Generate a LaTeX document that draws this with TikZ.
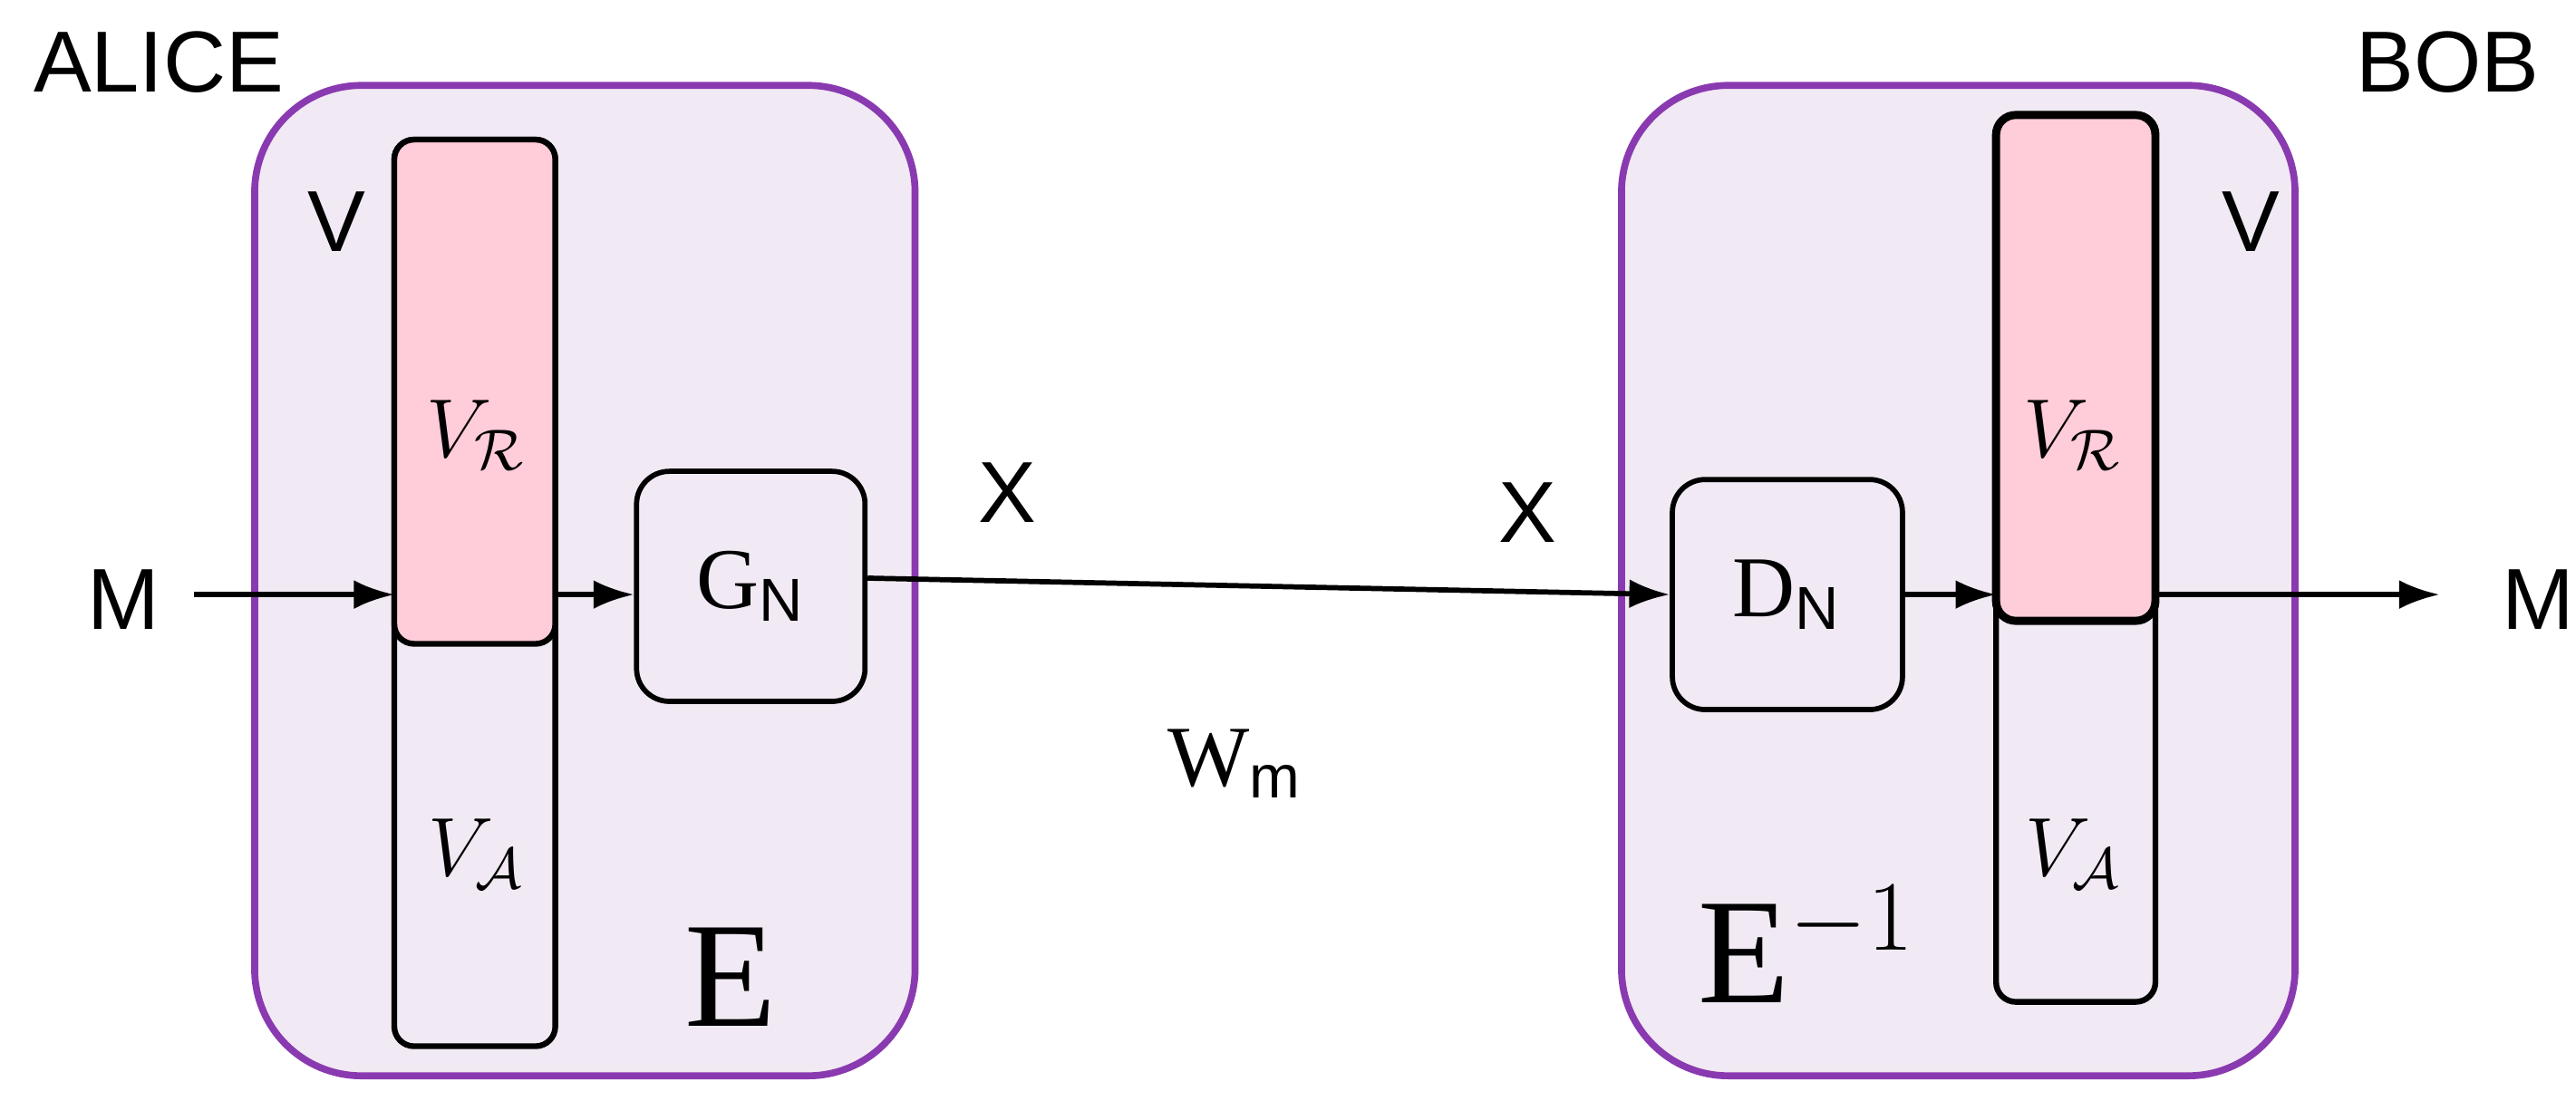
\documentclass[tikz,border=0pt]{standalone}
\usepackage{fontspec}
\setmainfont{Liberation Sans}
\newfontfamily\serifx{Liberation Serif}
\usetikzlibrary{arrows.meta}
\definecolor{lav}{HTML}{F1E9F3}
\definecolor{purp}{HTML}{8A3AB0}
\definecolor{pinkf}{HTML}{FFCCD9}
\begin{document}
\begin{tikzpicture}[x=0.01cm,y=-0.01cm,
 outer/.style={draw=purp,line width=1.2pt,fill=lav,rounded corners=0.65cm},
 inner/.style={draw=black,line width=0.9pt,fill=lav,rounded corners=0.2cm},
 col/.style={draw=black,line width=1pt,rounded corners=0.12cm},
 arr/.style={-{Latex[length=7pt,width=5pt]},line width=0.9pt},
 lab/.style={font=\fontsize{15}{15}\selectfont},
 mlab/.style={font=\fontsize{14}{14}\selectfont},
 slab/.style={font=\serifx\fontsize{15}{15}\selectfont}]
\useasboundingbox (0,0) rectangle (1568,670);
% Alice
\node[lab,anchor=west] at (8,38) {ALICE};
\draw[outer] (155,52) rectangle (557,655);
\draw[col,fill=lav] (240,85) rectangle (338,637);
\draw[col,fill=pinkf] (240,85) rectangle (338,392);
\node[lab] at (205,135) {V};
\node[mlab] (vr1) at (290,265) {$V_{\mathcal{R}}$};
\node[mlab] at (290,520) {$V_{\mathcal{A}}$};
\node[font=\serifx\fontsize{26}{26}\selectfont] at (445,595) {E};
\node[inner,minimum width=1.39cm,minimum height=1.4cm] (G) at (457,357) {\serifx\fontsize{15}{15}\selectfont G$_\mathrm{N}$};
\node[lab] (M1) at (75,365) {M};
\coordinate (c1in) at (240,362);
\coordinate (c1out) at (338,362);
\draw[arr] (118,362) -- (c1in);
\draw[arr] (c1out) -- (c1out -| G.west);
% Bob
\node[lab,anchor=east] at (1558,38) {BOB};
\draw[outer] (987,52) rectangle (1397,655);
\draw[col,fill=lav] (1215,70) rectangle (1312,610);
\draw[col,fill=pinkf,line width=1.4pt] (1215,70) rectangle (1312,378);
\node[lab] at (1370,135) {V};
\node[mlab] at (1262,265) {$V_{\mathcal{R}}$};
\node[mlab] at (1262,520) {$V_{\mathcal{A}}$};
\node[font=\serifx\fontsize{26}{26}\selectfont] at (1100,575) {E$^{-1}$};
\node[inner,minimum width=1.4cm,minimum height=1.4cm] (D) at (1088,362) {\serifx\fontsize{15}{15}\selectfont D$_\mathrm{N}$};
\coordinate (c2in) at (1215,362);
\coordinate (c2out) at (1312,362);
\coordinate (Mend) at (1485,362);
\node[lab] (M2) at (1545,365) {M};
\draw[arr] (D.east) -- (c2in);
\draw[arr] (c2out) -- (Mend);
% channel
\draw[arr] (G.east) ++(0,-5) -- (D.west);
\node[lab] at (613,300) {X};
\node[lab] at (930,312) {X};
\node[slab] at (752,465) {W$_\mathrm{m}$};
\end{tikzpicture}
\end{document}
